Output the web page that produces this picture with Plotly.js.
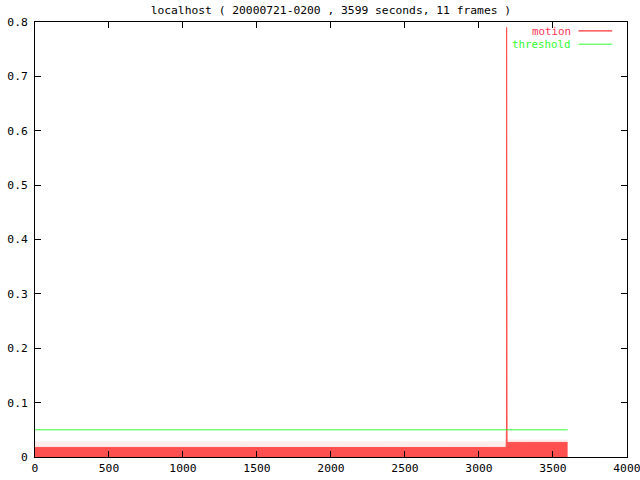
<!DOCTYPE html>
<html>
<head>
<meta charset="utf-8">
<script src="https://cdn.plot.ly/plotly-3.0.1.min.js"></script>
<style>
  html, body { margin: 0; padding: 0; background: #fff; }
  #chart { width: 640px; height: 480px; }
</style>
</head>
<body>
<div id="chart"></div>
<script>
// ---- data ----
const titleText = "localhost ( 20000721-0200 , 3599 seconds, 11 frames )";

// motion: time (s) and the solid level of the motion value
const motionT = [0, 100, 200, 300, 400, 500, 600, 700, 800, 900, 1000, 1100, 1200, 1300, 1400, 1500,
                 1600, 1700, 1800, 1900, 2000, 2100, 2200, 2300, 2400, 2500, 2600, 2700, 2800, 2900,
                 3000, 3100, 3184, 3186, 3187, 3188, 3190, 3300, 3400, 3500, 3599];
const motionV = [0.0176, 0.0177, 0.0176, 0.0175, 0.0176, 0.0177, 0.0176, 0.0175, 0.0176, 0.0177, 0.0176,
                 0.0175, 0.0176, 0.0177, 0.0176, 0.0175, 0.0176, 0.0177, 0.0176, 0.0175, 0.0176, 0.0177,
                 0.0176, 0.0175, 0.0176, 0.0176, 0.0175, 0.0176, 0.0177, 0.0176, 0.0175, 0.0176,
                 0.0176, 0.05, 0.79, 0.05, 0.0268, 0.0268, 0.0270, 0.0268, 0.0268];
// sparse peaks above the solid level (drawn as a faint band)
const peakT = [0, 3186, 3190, 3599];
const peakV = [0.029, 0.029, 0.032, 0.032];

// threshold
const thresholdT = [0, 3599];
const thresholdV = [0.05, 0.05];

// axes
const xTicks = [0, 500, 1000, 1500, 2000, 2500, 3000, 3500, 4000];
const yTicks = [0, 0.1, 0.2, 0.3, 0.4, 0.5, 0.6, 0.7, 0.8];
const yTickText = ["0", "0.1", "0.2", "0.3", "0.4", "0.5", "0.6", "0.7", "0.8"];

const seriesNames = ["motion", "threshold"];
const red = "#ff5050";
const green = "#33ff33";
const font = "DejaVu Sans Mono, monospace";

const traces = [
  {
    x: peakT, y: peakV, type: "scatter", mode: "lines",
    line: { width: 0, shape: "hv" }, fill: "tozeroy",
    fillcolor: "rgba(255,80,80,0.10)", showlegend: false, hoverinfo: "skip"
  },
  {
    x: motionT, y: motionV, type: "scatter", mode: "lines", name: seriesNames[0],
    line: { color: red, width: 1, shape: "linear" }, fill: "tozeroy",
    fillcolor: red, showlegend: false
  },
  {
    x: thresholdT, y: thresholdV, type: "scatter", mode: "lines", name: seriesNames[1],
    line: { color: green, width: 1 }, showlegend: false
  }
];

const axisCommon = {
  showline: true, linecolor: "#000", linewidth: 1, mirror: "ticks",
  ticks: "inside", ticklen: 6, tickcolor: "#000", tickwidth: 1,
  showgrid: false, zeroline: false, ticklabeloverflow: "allow",
  tickfont: { family: font, size: 11.3, color: "#000" }
};

const layout = {
  width: 640, height: 480,
  margin: { l: 35, r: 13, t: 22, b: 23 },
  paper_bgcolor: "#fff", plot_bgcolor: "#fff",
  showlegend: false,
  title: { text: titleText, font: { family: font, size: 11.3, color: "#000" },
           x: 0.517, xanchor: "center", y: 0.979, yanchor: "middle" },
  xaxis: Object.assign({}, axisCommon, {
    range: [0, 4000.5], tickvals: xTicks, ticktext: xTicks.map(String), ticklabelstandoff: 0
  }),
  yaxis: Object.assign({}, axisCommon, {
    range: [0, 0.8], tickvals: yTicks, ticktext: yTickText, ticklabelstandoff: 4
  }),
  annotations: [
    { xref: "paper", yref: "paper", x: 0.907, y: 0.979, xanchor: "right", yanchor: "middle",
      borderpad: 0, text: seriesNames[0], showarrow: false,
      font: { family: font, size: 10.8, color: "#ff3355" } },
    { xref: "paper", yref: "paper", x: 0.907, y: 0.948, xanchor: "right", yanchor: "middle",
      borderpad: 0, text: seriesNames[1], showarrow: false,
      font: { family: font, size: 10.8, color: green } }
  ],
  shapes: [
    { type: "line", xref: "paper", yref: "paper", x0: 0.918, x1: 0.975, y0: 0.9795, y1: 0.9795,
      line: { color: "#ff3333", width: 1.2 } },
    { type: "line", xref: "paper", yref: "paper", x0: 0.918, x1: 0.975, y0: 0.949, y1: 0.949,
      line: { color: green, width: 1 } }
  ]
};

Plotly.newPlot("chart", traces, layout, { staticPlot: true, displayModeBar: false });
</script>
</body>
</html>
